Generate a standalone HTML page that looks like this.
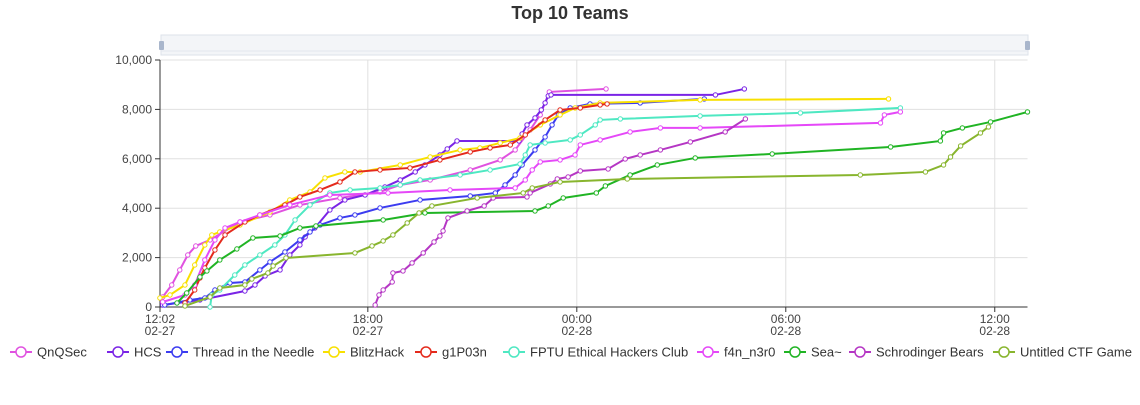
<!DOCTYPE html>
<html><head><meta charset="utf-8"><style>
body{margin:0;background:#fff;width:1140px;height:400px;overflow:hidden;font-family:"Liberation Sans",sans-serif}
svg text{font-family:"Liberation Sans",sans-serif}
</style></head><body>
<svg id="c" width="1140" height="400">
<text x="570" y="19" text-anchor="middle" font-size="18" font-weight="bold" fill="#333">Top 10 Teams</text>
<g>
<rect x="161" y="35" width="867" height="20" fill="#f3f5f8" stroke="#dde2ea"/>
<line x1="161" y1="51" x2="1028" y2="51" stroke="#e3e7ee"/>
<rect x="159" y="41" width="5" height="9" fill="#a9b6cc" rx="1"/>
<rect x="1025" y="41" width="5" height="9" fill="#a9b6cc" rx="1"/>
</g>
<g id="grid"></g><g id="series"></g><g id="legend"></g>
</svg>
<script>
const names=["QnQSec","HCS","Thread in the Needle","BlitzHack","g1P03n","FPTU Ethical Hackers Club","f4n_n3r0","Sea~","Schrodinger Bears","Untitled CTF Game"];
const colors=["#e052e0","#7a24e6","#3c3cf0","#f8e000","#e42a1c","#4ee8c2","#e548f8","#20b424","#b536c4","#88b52e"];
// hours since 02-27 12:00
const qnqT=[0.11,0.37,0.60,0.83,1.06,1.47,2.33,3.19,4.05,5.20,6.35,6.93,7.79,8.94,9.80,10.23,10.66,10.95,11.21,12.84];
const qnqS=[405,891,1499,2106,2470,2714,3443,3726,4131,4415,4658,4941,5144,5549,5954,6359,7169,7776,8708,8829];
const hcsT=[0.11,1.18,2.47,2.76,3.05,3.48,3.76,4.05,4.20,4.48,4.91,5.34,5.92,6.49,6.93,7.36,7.64,8.07,8.28,8.56,10.34,10.43,10.57,10.80,10.98,11.09,11.18,11.26,15.98,16.81];
const hcsS=[81,284,648,891,1256,1499,2106,2511,2835,3200,3929,4334,4536,4860,5144,5468,5751,6156,6399,6723,6723,7007,7371,7655,7979,8262,8546,8586,8586,8829];
const thrT=[0.17,0.89,1.32,1.61,2.04,2.47,2.90,3.19,3.62,4.05,4.34,4.63,5.20,5.63,6.35,7.50,8.94,9.66,9.94,10.23,10.43,10.80,11.09,11.29,11.47,11.81,12.38,13.82,15.66];
const thrS=[81,284,365,689,972,1013,1499,1823,2228,2714,3038,3321,3605,3726,4010,4334,4496,4617,4941,5346,5751,6359,6885,7371,7776,8060,8222,8262,8424];
const bliT=[0.03,0.32,0.75,1.03,1.32,1.52,1.75,2.33,3.19,3.76,4.34,4.77,5.34,5.78,6.93,7.79,8.65,9.22,9.80,10.37,10.95,11.52,11.95,12.67,15.54,20.95];
const bliS=[365,486,891,1701,2511,2916,3038,3321,3848,4334,4658,5225,5468,5468,5751,6075,6359,6440,6642,6845,7371,7776,8060,8262,8384,8424];
const g1pT=[0.75,1.03,1.18,1.32,1.61,1.90,2.47,2.90,3.62,4.05,4.63,5.20,5.63,6.35,7.21,8.07,8.94,9.51,10.09,10.52,11.09,11.52,12.10,12.67,12.87];
const g1pS=[162,689,1175,1580,2309,2916,3443,3726,4131,4455,4739,5063,5468,5549,5630,5954,6278,6440,6561,6966,7574,7979,8060,8181,8222];
const fptT=[1.47,1.52,1.75,2.18,2.47,2.90,3.33,3.62,3.91,4.34,4.91,5.49,6.35,6.93,7.50,8.65,9.51,10.37,10.52,10.66,11.09,11.81,12.10,12.53,12.67,13.25,15.54,18.42,21.29];
const fptS=[0,486,689,1296,1701,2106,2511,2916,3524,4131,4617,4739,4820,4941,5144,5346,5549,5792,6156,6561,6642,6764,6966,7371,7574,7614,7736,7857,8060];
const f4nT=[0.11,0.75,1.03,1.32,1.61,1.90,2.33,2.90,3.76,4.91,6.58,8.36,10.23,10.52,10.72,10.95,11.52,11.95,12.10,12.67,13.53,14.40,15.54,20.72,20.83,21.29];
const f4nS=[203,486,891,1904,2714,3200,3443,3726,4131,4536,4617,4739,4820,5144,5549,5873,5954,6156,6561,6764,7088,7250,7250,7452,7776,7898];
const seaT=[0.52,0.80,1.18,1.38,1.75,2.24,2.70,3.48,4.05,4.51,6.44,7.64,10.80,11.18,11.61,12.56,12.82,13.53,14.31,15.40,17.61,21.01,22.44,22.53,23.07,23.88,24.94];
const seaS=[162,567,1215,1458,1904,2349,2795,2876,3200,3281,3524,3807,3888,4091,4415,4617,4901,5346,5751,6035,6197,6480,6723,7047,7250,7493,7898];
const schT=[6.21,6.32,6.44,6.70,6.72,7.01,7.27,7.59,7.90,8.07,8.16,8.30,8.85,9.34,9.60,10.57,10.66,11.24,11.44,11.75,12.10,12.90,13.39,13.82,14.40,15.26,16.26,16.84];
const schS=[81,486,689,1013,1377,1458,1782,2187,2633,2876,3078,3605,3888,4091,4415,4455,4617,4982,5184,5265,5508,5589,5994,6156,6359,6683,7088,7614];
const untT=[0.75,1.47,1.75,2.47,2.67,3.13,3.28,3.65,5.63,6.12,6.44,6.72,7.13,7.47,7.84,9.14,10.46,10.72,11.52,13.45,20.14,22.01,22.53,22.73,23.02,23.59,23.82];
const untS=[41,405,770,891,1134,1377,1661,1985,2187,2471,2673,2916,3402,3807,4091,4415,4617,4820,5063,5184,5346,5468,5751,6075,6521,7047,7290];
const times=[qnqT,hcsT,thrT,bliT,g1pT,fptT,f4nT,seaT,schT,untT];
const scores=[qnqS,hcsS,thrS,bliS,g1pS,fptS,f4nS,seaS,schS,untS];
const yTicks=[0,2000,4000,6000,8000,10000];
const xTicks=[0.033,6,12,18,24];
const xTickLabels=[["12:02","02-27"],["18:00","02-27"],["00:00","02-28"],["06:00","02-28"],["12:00","02-28"]];
const ns="http://www.w3.org/2000/svg";
const X0=160,X1=1027.5,Y0=307,Y1=60,TMIN=0.033,TMAX=24.94;
const xs=t=>X0+(t-TMIN)/(TMAX-TMIN)*(X1-X0);
const ys=v=>Y0-v/10000*(Y0-Y1);
function mk(tag,at,parent){const e=document.createElementNS(ns,tag);for(const k in at)e.setAttribute(k,at[k]);parent.appendChild(e);return e;}
const grid=document.getElementById('grid');
yTicks.forEach(v=>{
 if(v>0){const l=mk('line',{x1:X0,x2:X1,y1:ys(v),y2:ys(v),stroke:'#e0e0e0'},grid);
 
 }
 mk('line',{x1:X0-5,x2:X0,y1:ys(v),y2:ys(v),stroke:'#333'},grid);
 const t=mk('text',{x:X0-8,y:ys(v)+4,'text-anchor':'end','font-size':12,fill:'#444'},grid);
 t.textContent=v.toLocaleString('en-US');
 
 
});
xTicks.forEach((h,i)=>{
 const x=xs(h);
 if(i>0){const l=mk('line',{x1:x,x2:x,y1:Y1,y2:Y0,stroke:'#e0e0e0'},grid);
 
 }
 mk('line',{x1:x,x2:x,y1:Y0,y2:Y0+5,stroke:'#333'},grid);
 xTickLabels[i].forEach((s,j)=>{const t=mk('text',{x:x,y:Y0+16+j*12,'text-anchor':'middle','font-size':12,fill:'#444'},grid);t.textContent=s;
 
 });
});
mk('line',{x1:X0,x2:X0,y1:Y1,y2:Y0,stroke:'#333'},grid);
mk('line',{x1:X0,x2:X1,y1:Y0,y2:Y0,stroke:'#333'},grid);
const sg=document.getElementById('series');
times.forEach((T,i)=>{
 const g=mk('g',{},sg);
 
 
 mk('polyline',{points:T.map((t,k)=>xs(t)+','+ys(scores[i][k])).join(' '),fill:'none',stroke:colors[i],'stroke-width':2},g);
 T.forEach((t,k)=>{const c=mk('circle',{cx:xs(t),cy:ys(scores[i][k]),r:2.2,fill:'#fff',stroke:colors[i],'stroke-width':1},g);
 
 });
});
const lg=document.getElementById('legend');
const lx=[10,107,166,323,415,503,697,784,849,993];
names.forEach((n,i)=>{
 const g=mk('g',{},lg);
 
 
 mk('line',{x1:lx[i],x2:lx[i]+22,y1:352,y2:352,stroke:colors[i],'stroke-width':2},g);
 mk('circle',{cx:lx[i]+11,cy:352,r:5,fill:'#fff',stroke:colors[i],'stroke-width':1.5},g);
 const t=mk('text',{x:lx[i]+27,y:356.5,'font-size':13,fill:'#333'},g);t.textContent=n;
});
</script>
</body></html>
